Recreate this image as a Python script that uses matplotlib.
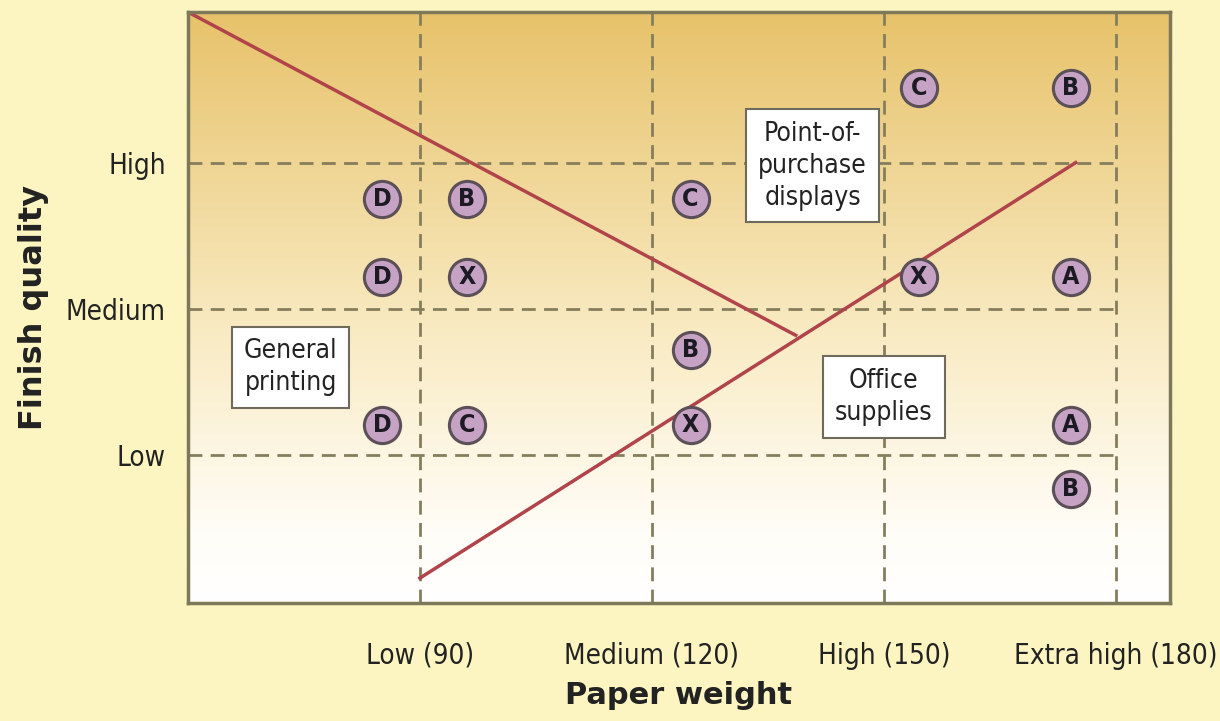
import numpy as np
import matplotlib
matplotlib.use("Agg")
import matplotlib.pyplot as plt
from matplotlib.colors import LinearSegmentedColormap

# axis categories
weight_ticks = [90, 120, 150, 180]
weight_labels = ["Low (90)", "Medium (120)", "High (150)", "Extra high (180)"]
quality_ticks = [1, 2, 3]
quality_labels = ["Low", "Medium", "High"]

# lettered products
point_x = [85.1, 96.1, 125.0, 85.1, 96.1, 154.5, 174.2, 154.5, 174.2, 125.0, 85.1, 96.1, 125.0, 174.2, 174.2]
point_y = [2.75, 2.75, 2.75, 2.22, 2.22, 2.22, 2.22, 3.51, 3.51, 1.72, 1.21, 1.21, 1.21, 1.21, 0.77]
point_letters = ["D", "B", "C", "D", "X", "X", "A", "C", "B", "B", "D", "C", "X", "A", "B"]

# the two red dividing lines
line1_x = [60, 138.6]
line1_y = [4.03, 1.82]
line2_x = [90, 174.8]
line2_y = [0.16, 3.0]

# segment boxes
box_text = ["Point-of-\npurchase\ndisplays", "General\nprinting", "Office\nsupplies"]
box_x = [140.8, 73.3, 150.0]
box_y = [2.98, 1.6, 1.4]

fig = plt.figure(figsize=(12.2, 7.21), dpi=100)
fig.patch.set_facecolor("#fcf5c1")
ax = fig.add_axes([0.154, 0.1637, 0.805, 0.8197])

xmin, xmax, ymin, ymax = 60, 187, -0.01, 4.03
ax.set_xlim(xmin, xmax)
ax.set_ylim(ymin, ymax)

# background gradient, orange at the top fading to white
cmap = LinearSegmentedColormap.from_list(
    "bg", [(0, "#ffffff"), (0.12, "#fffdf7"), (0.45, "#f9ebc4"), (1.0, "#e7c26a")])
grad = np.linspace(0, 1, 256).reshape(-1, 1)
ax.imshow(grad, extent=[xmin, xmax, ymin, ymax], origin="lower", aspect="auto",
          cmap=cmap, zorder=0)

dash_col = "#857e5c"
for x in weight_ticks:
    ax.axvline(x, color=dash_col, lw=2, linestyle=(0, (5, 3)), zorder=1)
for y in quality_ticks:
    ax.plot([xmin, 180], [y, y], color=dash_col, lw=2, linestyle=(0, (5, 3)), zorder=1)

ax.plot(line1_x, line1_y, color="#b0444a", lw=2.5, zorder=2)
ax.plot(line2_x, line2_y, color="#b0444a", lw=2.5, zorder=2)

ax.scatter(point_x, point_y, s=680, facecolor="#c6a3c4", edgecolor="#5b5058",
           linewidth=2.2, zorder=3)
for x, y, t in zip(point_x, point_y, point_letters):
    ax.text(x, y, t, ha="center", va="center", fontsize=18, color="#1c1a22",
            fontweight="bold", fontstretch="condensed", zorder=4)

for t, x, y in zip(box_text, box_x, box_y):
    ax.text(x, y, t, ha="center", va="center", fontsize=19, color="#222222",
            linespacing=1.3, fontstretch="condensed", zorder=5,
            bbox=dict(boxstyle="square,pad=0.45", facecolor="white",
                      edgecolor="#6e6a5c", linewidth=1.5))

ax.set_xticks(weight_ticks)
ax.set_xticklabels(weight_labels, fontsize=20, color="#222222", fontstretch="condensed")
ax.set_yticks(quality_ticks)
ax.set_yticklabels(quality_labels, fontsize=20, color="#222222", fontstretch="condensed")
ax.tick_params(axis="y", length=0, pad=16)
ax.tick_params(axis="x", length=0, pad=28)

for s in ax.spines.values():
    s.set_color("#7d785a")
    s.set_linewidth(2.5)

ax.set_xlabel("Paper weight", fontsize=22, fontweight="bold", color="#222222", labelpad=8)
ax.set_ylabel("Finish quality", fontsize=23, fontweight="bold", color="#222222", labelpad=12)

fig.savefig("out.png", dpi=100, facecolor=fig.get_facecolor())
